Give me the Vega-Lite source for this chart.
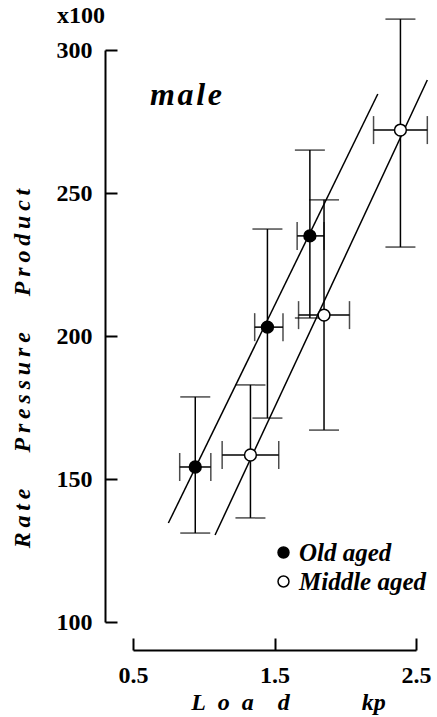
{
  "$schema": "https://vega.github.io/schema/vega-lite/v6.json",
  "width": 283,
  "height": 572,
  "autosize": "none",
  "padding": {"left": 133, "top": 50, "right": 21, "bottom": 95},
  "background": "white",
  "config": {
    "view": {"stroke": null},
    "font": "Liberation Serif, Times New Roman, Times, serif",
    "axis": {
      "grid": false,
      "domainColor": "black",
      "domainWidth": 2,
      "tickColor": "black",
      "tickWidth": 2,
      "tickSize": -12,
      "offset": 28,
      "labelFont": "Liberation Serif, Times New Roman, Times, serif",
      "labelFontWeight": "bold",
      "labelFontSize": 24,
      "labelColor": "black",
      "labelFlush": false,
      "labelOverlap": false,
      "titleFont": "Liberation Serif, Times New Roman, Times, serif",
      "titleFontWeight": "bold",
      "titleFontStyle": "italic",
      "titleFontSize": 24,
      "titleColor": "black"
    },
    "axisY": {"labelPadding": 25, "titleX": -83, "titleY": 318, "titleAngle": -90, "titleAlign": "center", "titleBaseline": "middle"},
    "axisX": {"labelPadding": 25, "titleX": 155, "titleY": 59, "titleAlign": "center", "titleBaseline": "alphabetic"},
    "legend": {
      "labelFont": "Liberation Serif, Times New Roman, Times, serif",
      "labelFontSize": 25,
      "labelFontStyle": "italic",
      "labelFontWeight": "bold",
      "labelColor": "black"
    }
  },
  "datasets": {
    "points": [
      {"group": "Old aged", "load": 0.94, "rpp": 154.2, "rpp_lo": 131.1, "rpp_hi": 178.7, "load_lo": 0.83, "load_hi": 1.05},
      {"group": "Old aged", "load": 1.45, "rpp": 203.1, "rpp_lo": 171.3, "rpp_hi": 237.4, "load_lo": 1.36, "load_hi": 1.56},
      {"group": "Old aged", "load": 1.75, "rpp": 235.0, "rpp_lo": 206.3, "rpp_hi": 265.0, "load_lo": 1.66, "load_hi": 1.85},
      {"group": "Middle aged", "load": 1.33, "rpp": 158.4, "rpp_lo": 136.4, "rpp_hi": 182.9, "load_lo": 1.13, "load_hi": 1.53},
      {"group": "Middle aged", "load": 1.85, "rpp": 207.3, "rpp_lo": 167.1, "rpp_hi": 247.6, "load_lo": 1.67, "load_hi": 2.03},
      {"group": "Middle aged", "load": 2.39, "rpp": 272.0, "rpp_lo": 231.1, "rpp_hi": 310.8, "load_lo": 2.2, "load_hi": 2.58}
    ],
    "lines": [
      {"group": "Old aged", "load": 0.75, "rpp": 134.6},
      {"group": "Old aged", "load": 2.23, "rpp": 284.6},
      {"group": "Middle aged", "load": 1.08, "rpp": 130.4},
      {"group": "Middle aged", "load": 2.58, "rpp": 289.5}
    ],
    "labels": [
      {"text": "m\u200aa\u200al\u200ae", "load": 0.62, "rpp": 280.8, "kind": "male"},
      {"text": "x100", "load": 0.1325, "rpp": 309.4, "kind": "unit"}
    ]
  },
  "layer": [
    {
      "data": {"name": "lines"},
      "mark": {"type": "line", "color": "black", "strokeWidth": 1.5},
      "encoding": {
        "x": {"field": "load", "type": "quantitative", "scale": {"domain": [0.5, 2.5], "nice": false, "zero": false},
              "axis": {"title": "L\u2002o\u2002a\u2002\u2002d\u2003\u2003\u2003kp", "values": [0.5, 1.5, 2.5], "format": ".1f"}},
        "y": {"field": "rpp", "type": "quantitative", "scale": {"domain": [100, 300], "nice": false, "zero": false},
              "axis": {"title": "R\u2009a\u2009t\u2009e\u2003\u2002P\u2009r\u2009e\u2009s\u2009s\u2009u\u2009r\u2009e\u2003\u2002P\u2009r\u2009o\u2009d\u2009u\u2009c\u2009t", "values": [100, 150, 200, 250, 300]}},
        "detail": {"field": "group"}
      }
    },
    {
      "data": {"name": "points"},
      "mark": {"type": "rule", "color": "black", "strokeWidth": 1.5},
      "encoding": {
        "x": {"field": "load", "type": "quantitative"},
        "y": {"field": "rpp_lo", "type": "quantitative"},
        "y2": {"field": "rpp_hi"}
      }
    },
    {
      "data": {"name": "points"},
      "mark": {"type": "rule", "color": "black", "strokeWidth": 1.5},
      "encoding": {
        "y": {"field": "rpp", "type": "quantitative"},
        "x": {"field": "load_lo", "type": "quantitative"},
        "x2": {"field": "load_hi"}
      }
    },
    {
      "data": {"name": "points"},
      "mark": {"type": "tick", "orient": "horizontal", "color": "black", "size": 30, "thickness": 1.5},
      "encoding": {
        "x": {"field": "load", "type": "quantitative"},
        "y": {"field": "rpp_lo", "type": "quantitative"}
      }
    },
    {
      "data": {"name": "points"},
      "mark": {"type": "tick", "orient": "horizontal", "color": "black", "size": 30, "thickness": 1.5},
      "encoding": {
        "x": {"field": "load", "type": "quantitative"},
        "y": {"field": "rpp_hi", "type": "quantitative"}
      }
    },
    {
      "data": {"name": "points"},
      "mark": {"type": "tick", "orient": "vertical", "color": "black", "size": 28, "thickness": 1.5},
      "encoding": {
        "x": {"field": "load_lo", "type": "quantitative"},
        "y": {"field": "rpp", "type": "quantitative"}
      }
    },
    {
      "data": {"name": "points"},
      "mark": {"type": "tick", "orient": "vertical", "color": "black", "size": 28, "thickness": 1.5},
      "encoding": {
        "x": {"field": "load_hi", "type": "quantitative"},
        "y": {"field": "rpp", "type": "quantitative"}
      }
    },
    {
      "data": {"name": "points"},
      "mark": {"type": "point", "shape": "circle", "filled": true, "size": 140, "stroke": "black", "strokeWidth": 1.5, "opacity": 1},
      "encoding": {
        "x": {"field": "load", "type": "quantitative"},
        "y": {"field": "rpp", "type": "quantitative"},
        "fill": {
          "field": "group", "type": "nominal",
          "scale": {"domain": ["Old aged", "Middle aged"], "range": ["black", "white"]},
          "legend": {"title": null, "orient": "none", "legendX": 138, "legendY": 490, "padding": 0,
                     "symbolType": "circle", "symbolSize": 120, "symbolStrokeColor": "black", "symbolStrokeWidth": 1.5,
                     "rowPadding": 3, "labelOffset": 3}
        }
      }
    },
    {
      "data": {"name": "labels"},
      "transform": [{"filter": "datum.kind === 'male'"}],
      "mark": {"type": "text", "align": "left", "baseline": "alphabetic", "font": "Liberation Serif, Times New Roman, Times, serif", "fontSize": 32, "fontStyle": "italic", "fontWeight": "bold", "color": "black"},
      "encoding": {
        "x": {"field": "load", "type": "quantitative"},
        "y": {"field": "rpp", "type": "quantitative"},
        "text": {"field": "text"}
      }
    },
    {
      "data": {"name": "labels"},
      "transform": [{"filter": "datum.kind === 'unit'"}],
      "mark": {"type": "text", "align": "center", "baseline": "alphabetic", "font": "Liberation Serif, Times New Roman, Times, serif", "fontSize": 24, "fontWeight": "bold", "color": "black"},
      "encoding": {
        "x": {"field": "load", "type": "quantitative"},
        "y": {"field": "rpp", "type": "quantitative"},
        "text": {"field": "text"}
      }
    }
  ]
}
